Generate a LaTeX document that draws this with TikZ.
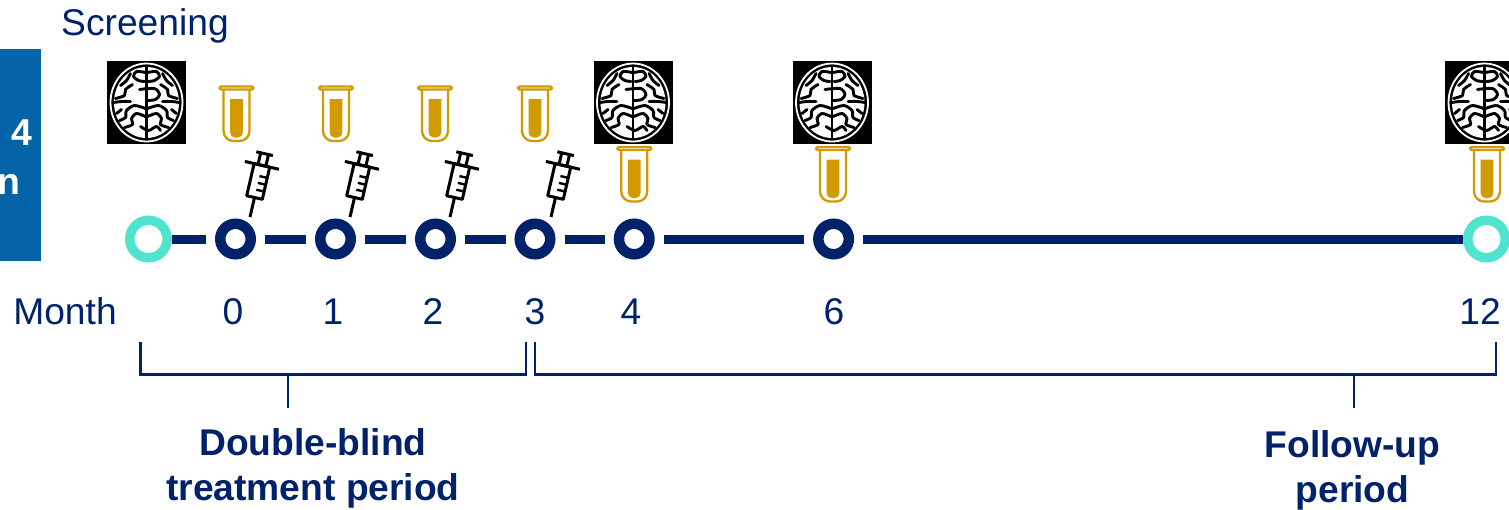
\documentclass[tikz,border=0pt]{standalone}
\usepackage{fontspec}
\setmainfont{Liberation Sans}
\usepackage{tikz}
\usetikzlibrary{positioning}
\definecolor{navy}{HTML}{00226B}
\definecolor{teal}{HTML}{4FE3D0}
\definecolor{sidebar}{HTML}{0563A8}
\definecolor{gold}{HTML}{D09A00}

\begin{document}
\begin{tikzpicture}[x=0.5pt,y=-0.5pt,on grid]
\tikzset{
    visit/.style={circle, draw=navy, line width=5.25pt, fill=white, minimum size=15.25pt, inner sep=0pt},
    screen/.style={circle, draw=teal, line width=4.75pt, fill=white, minimum size=18.75pt, inner sep=0pt},
    link/.style={navy, line width=4.5pt, shorten <=4.5pt, shorten >=4.5pt},
    bracket/.style={navy, line width=1.35pt},
    plain/.style={text=navy, font=\fontsize{18.6}{22.5}\selectfont, inner sep=0pt, anchor=base},
    period/.style={text=navy, font=\fontsize{18.6}{22.5}\selectfont\bfseries, inner sep=0pt, align=center},
    side/.style={text=white, font=\fontsize{18.7}{22.5}\selectfont\bfseries, inner sep=0pt, anchor=base east},
    fold/.style={black, line width=1.45pt, line cap=round, line join=round},
    brain/.pic={
        \fill[black] (-39.5,-41.5) rectangle (39.5,41.5);
        \draw[white, line width=0.9pt] (0,0) ellipse (36 and 39);
        \fill[white] (0,0) ellipse (32.5 and 35.5);
        \draw[fold] (0,-36) -- (0,36);
        % right half of the folds
        \draw[fold] plot[smooth] coordinates {(1,-30) (10,-31) (13,-26) (8,-22) (2,-21)};
        \draw[fold] plot[smooth] coordinates {(-7,-13) (8,-14) (13,-8) (9,-3) (1,-2)};
        \draw[fold] plot[smooth] coordinates {(16,-29) (20,-22) (26,-17)};
        \draw[fold] plot[smooth] coordinates {(14,-18) (21,-13) (22,-7) (31,-4)};
        \draw[fold] plot[smooth] coordinates {(16,-1) (25,-1) (33,0)};
        \draw[fold] plot[smooth] coordinates {(1,6) (12,3) (20,8) (21,15) (27,18)};
        \draw[fold] plot[smooth] coordinates {(25,7) (30,11)};
        \draw[fold] plot[smooth] coordinates {(1,14) (10,11) (15,16) (14,22) (22,25)};
        \draw[fold] plot[smooth] coordinates {(-6,24) (2,28) (10,24) (14,28)};
        % left half of the folds
        \draw[fold] plot[smooth] coordinates {(-1,-30) (-10,-31) (-13,-26) (-8,-22) (-2,-21)};
        \draw[fold] plot[smooth] coordinates {(-16,-29) (-20,-22) (-26,-17)};
        \draw[fold] plot[smooth] coordinates {(-14,-18) (-21,-13) (-22,-7) (-31,-4)};
        \draw[fold] plot[smooth] coordinates {(-16,-1) (-25,-1) (-33,0)};
        \draw[fold] plot[smooth] coordinates {(-1,6) (-12,3) (-20,8) (-21,15) (-27,18)};
        \draw[fold] plot[smooth] coordinates {(-25,7) (-30,11)};
        \draw[fold] plot[smooth] coordinates {(-1,14) (-10,11) (-15,16) (-14,22) (-22,25)};
    },
    tube/.pic={
        \fill[gold, rounded corners=1.5pt] (-6.4,-15) [sharp corners] -- (6.4,-15) [rounded corners=2.5pt] -- (6.4,23.5) -- (-6.4,23.5) [sharp corners] -- cycle;
        \draw[gold, line width=1.15pt, rounded corners=5pt] (-13,-26) -- (-13,27) -- (13,27) -- (13,-26);
        \draw[gold, line width=1.15pt, fill=white, rounded corners=0.7pt] (-17,-27.5) rectangle (17,-24.5);
    },
    syringe/.pic={
        \draw[black, line width=1.5pt] (0,0) -- (0,-19);
        \draw[black, line width=1.5pt, line join=round] (-8,-20) -- (8,-20) -- (8,-53) -- (-8,-53) -- cycle;
        \draw[black, line width=1.5pt] (-17.5,-53) -- (17.5,-53);
        \draw[black, line width=1.5pt] (-4,-53) -- (-4,-65);
        \draw[black, line width=1.5pt] (4,-53) -- (4,-65);
        \draw[black, line width=1.5pt] (-8.5,-65) -- (8.5,-65);
        \draw[black, line width=1.2pt] (0,-28) -- (8,-28);
        \draw[black, line width=1.2pt] (0,-35) -- (8,-35);
        \draw[black, line width=1.2pt] (0,-42) -- (8,-42);
    }
}
\useasboundingbox (0,0) rectangle (1509,509);

% left bar
\fill[sidebar] (0,49) rectangle (41,261);
\node[side] (week) at (33,145) {4};
\node[side] (wordend) at (20.5,194) {n};
\node[plain] (scr) at (145,35) {Screening};

% timeline
\node[screen] (start) at (148.5,239) {};
\node[visit] (m0) at (235.5,239) {};
\node[visit, right=50pt of m0] (m1) {};
\node[visit, right=50pt of m1] (m2) {};
\node[visit, right=49.75pt of m2] (m3) {};
\node[visit, right=49.6pt of m3] (m4) {};
\node[visit, right=99.7pt of m4] (m6) {};
\node[screen] (end) at (1486.5,239) {};
\draw[link, shorten <=0pt] (start) -- (m0);
\draw[link] (m0) -- (m1);
\draw[link] (m1) -- (m2);
\draw[link] (m2) -- (m3);
\draw[link] (m3) -- (m4);
\draw[link] (m4) -- (m6);
\draw[link, shorten >=0pt] (m6) -- (end);

% icons
\pic (brain0) at (146.5,102.5) {brain};
\pic (brain4) at (633,102.5) {brain};
\pic (brain6) at (832,102.5) {brain};
\pic (brain12) at (1484.5,102.5) {brain};
\pic (tube0) at (236.5,114) {tube};
\pic (tube1) at (336,114) {tube};
\pic (tube2) at (435,114) {tube};
\pic (tube3) at (535,114) {tube};
\pic (tube4) at (634.3,174.5) {tube};
\pic (tube6) at (833,174.5) {tube};
\pic (tube12) at (1487,174.5) {tube};
\pic[rotate=-13] (syr0) at (250,217) {syringe};
\pic[rotate=-13] (syr1) at (350,217) {syringe};
\pic[rotate=-13] (syr2) at (450,217) {syringe};
\pic[rotate=-13] (syr3) at (551,217) {syringe};

% month labels
\node[plain] (month) at (65,324) {Month};
\node[plain] (lab0) at (233,324) {0};
\node[plain] (lab1) at (333,324) {1};
\node[plain] (lab2) at (433,324) {2};
\node[plain] (lab3) at (535,324) {3};
\node[plain] (lab4) at (631,324) {4};
\node[plain] (lab6) at (834,324) {6};
\node[plain] (lab12) at (1480,324) {12};

% brackets
\coordinate (dbleft) at (140.5,342);
\coordinate (dbright) at (526,342);
\coordinate (dbjoin) at (288,374.5);
\coordinate (dbtick) at (288,408);
\coordinate (fuleft) at (535,342);
\coordinate (furight) at (1496,342);
\coordinate (fujoin) at (1354,374.5);
\coordinate (futick) at (1354,408);
\draw[bracket] (dbleft) |- (dbjoin) -| (dbright);
\draw[bracket] (dbjoin) -- (dbtick);
\draw[bracket] (fuleft) |- (fujoin) -| (furight);
\draw[bracket] (fujoin) -- (futick);

\node[period] (dbl) at (313,468) {Double-blind\\treatment period};
\node[period] (fol) at (1352.5,470) {Follow-up\\period};
\end{tikzpicture}
\end{document}
